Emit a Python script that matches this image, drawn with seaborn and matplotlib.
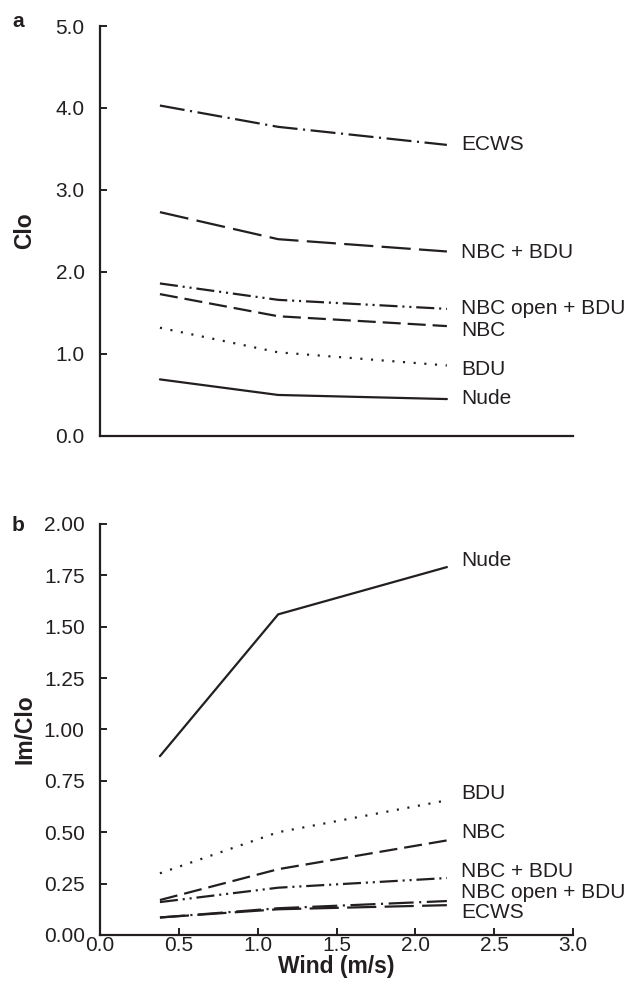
import matplotlib
matplotlib.use("Agg")
import matplotlib.pyplot as plt
import pandas as pd
import seaborn as sns

# wind speeds (m/s)
wind = [0.38, 1.13, 2.2]
garments = ["Nude", "BDU", "NBC", "NBC open + BDU", "NBC + BDU", "ECWS"]

# panel a: Clo
clo_nude = [0.69, 0.50, 0.45]
clo_bdu = [1.32, 1.02, 0.86]
clo_nbc = [1.73, 1.46, 1.34]
clo_nbc_open = [1.86, 1.66, 1.55]
clo_nbc_bdu = [2.73, 2.40, 2.25]
clo_ecws = [4.03, 3.77, 3.55]

# panel b: Im/Clo
imclo_nude = [0.87, 1.56, 1.79]
imclo_bdu = [0.30, 0.50, 0.655]
imclo_nbc = [0.17, 0.32, 0.46]
imclo_nbc_open = [0.16, 0.23, 0.277]
imclo_nbc_bdu = [0.085, 0.125, 0.145]
imclo_ecws = [0.085, 0.13, 0.165]

# text labels at line ends (y positions as in the figure)
labels_a = ["ECWS", "NBC + BDU", "NBC open + BDU", "NBC", "BDU", "Nude"]
labels_a_y = [3.55, 2.24, 1.55, 1.29, 0.81, 0.46]
labels_b = ["Nude", "BDU", "NBC", "NBC + BDU", "NBC open + BDU", "ECWS"]
labels_b_y = [1.82, 0.69, 0.50, 0.31, 0.205, 0.11]

ink = "#231f20"
dash_map = {
    "Nude": "",
    "BDU": (1.5, 6.2),
    "NBC": (13, 5),
    "NBC open + BDU": (13, 3.5, 1.5, 3.5, 1.5, 3.5),
    "NBC + BDU": (21, 6),
    "ECWS": (18, 4, 1.5, 4),
}

def long_df(series, col):
    rows = []
    for g, vals in zip(garments, series):
        for w, v in zip(wind, vals):
            rows.append({"wind": w, col: v, "garment": g})
    return pd.DataFrame(rows)

df_a = long_df([clo_nude, clo_bdu, clo_nbc, clo_nbc_open, clo_nbc_bdu, clo_ecws], "clo")
df_b = long_df([imclo_nude, imclo_bdu, imclo_nbc, imclo_nbc_open, imclo_nbc_bdu, imclo_ecws], "imclo")

sns.set_style("ticks")
plt.rcParams["font.family"] = ["Liberation Sans", "DejaVu Sans"]
plt.rcParams["font.stretch"] = "normal"
plt.rcParams["lines.scale_dashes"] = False

bold = dict(family="Liberation Sans", weight="bold", stretch="normal", size=16.5)

fig = plt.figure(figsize=(6.29, 9.85), dpi=100)
ax1 = fig.add_axes([0.159, 0.5574, 0.752, 0.4162])
ax2 = fig.add_axes([0.159, 0.0508, 0.752, 0.4173])

sns.lineplot(data=df_a, x="wind", y="clo", style="garment", dashes=dash_map,
             color=ink, linewidth=1.6, legend=False, ax=ax1)
sns.lineplot(data=df_b, x="wind", y="imclo", style="garment", dashes=dash_map,
             color=ink, linewidth=1.6, legend=False, ax=ax2)

for ax in (ax1, ax2):
    sns.despine(ax=ax)
    ax.set_xlim(0, 3)
    for s in ("left", "bottom"):
        ax.spines[s].set_linewidth(1.6)
        ax.spines[s].set_color(ink)
    ax.tick_params(direction="in", length=5, width=1.4, color=ink,
                   labelsize=15, labelcolor=ink, pad=11)

ax1.set_ylim(0, 5)
ax1.set_yticks([0, 1, 2, 3, 4, 5])
ax1.set_yticklabels(["0.0", "1.0", "2.0", "3.0", "4.0", "5.0"])
ax1.tick_params(axis="x", bottom=False, labelbottom=False)
ax1.set_xlabel("")
ax1.set_ylabel("Clo", fontdict=bold, color=ink)
ax1.yaxis.set_label_coords(-0.135, 0.5)

ax2.set_ylim(0, 2)
ax2.set_yticks([0, 0.25, 0.5, 0.75, 1.0, 1.25, 1.5, 1.75, 2.0])
ax2.set_yticklabels(["0.00", "0.25", "0.50", "0.75", "1.00", "1.25", "1.50", "1.75", "2.00"])
ax2.set_xticks([0, 0.5, 1.0, 1.5, 2.0, 2.5, 3.0])
ax2.set_xticklabels(["0.0", "0.5", "1.0", "1.5", "2.0", "2.5", "3.0"])
ax2.tick_params(axis="x", pad=1)
ax2.set_xlabel("Wind (m/s)", fontdict=bold, color=ink, labelpad=0)
ax2.set_ylabel("Im/Clo", fontdict=bold, color=ink)
ax2.yaxis.set_label_coords(-0.135, 0.5)

for lab, y in zip(labels_a, labels_a_y):
    ax1.text(2.29, y, lab, fontsize=15, color=ink, va="center", ha="left", clip_on=False)
for lab, y in zip(labels_b, labels_b_y):
    ax2.text(2.29, y, lab, fontsize=15, color=ink, va="center", ha="left", clip_on=False)

fig.text(0.019, 0.978, "a", fontdict=dict(bold, size=15), color=ink, va="center")
fig.text(0.019, 0.467, "b", fontdict=dict(bold, size=15), color=ink, va="center")

fig.savefig("out.png", dpi=100)
